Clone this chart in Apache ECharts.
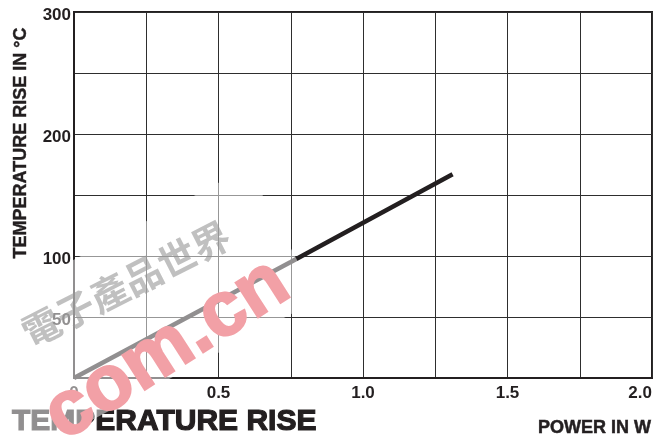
<!DOCTYPE html>
<html>
<head>
<meta charset="utf-8">
<script src="https://cdn.jsdelivr.net/npm/echarts@6/dist/echarts.min.js"></script>
<style>
html,body{margin:0;padding:0;background:#fff;}
#chart{width:665px;height:438px;}
</style>
</head>
<body>
<div id="chart"></div>
<script>
// Data
const powerW = [0, 0.75, 1.31];
const tempRiseC = [0, 95, 167];
const yTickLabels = [50, 100, 200, 300];
const xTickLabels = [0, 0.5, 1.0, 1.5, 2.0];
const yTitle = 'TEMPERATURE RISE IN °C';
const xTitle = 'POWER IN W';
const mainTitle = 'TEMPERATURE RISE';
const watermarkCn = '電子產品世界';
const watermarkEn = 'com.cn';

const FONT = "'Liberation Sans', Arial, Helvetica, sans-serif";
const INK = '#231f20';
const deg = Math.PI / 180;

const chart = echarts.init(document.getElementById('chart'));
chart.setOption({
  animation: false,
  backgroundColor: '#fff',
  grid: {left: 74, right: 13, top: 12, bottom: 60, show: true, borderColor: INK, borderWidth: 2, backgroundColor: 'transparent'},
  xAxis: {
    type: 'value', min: 0, max: 2, interval: 0.25,
    axisLine: {show: true, lineStyle: {color: INK, width: 2}},
    axisTick: {show: false},
    splitLine: {show: true, lineStyle: {color: '#2e2e2e', width: 1}},
    axisLabel: {
      margin: 7, color: INK, fontSize: 17, fontWeight: 'bold', fontFamily: FONT,
      alignMaxLabel: 'right',
      formatter: function (v) {
        const hit = xTickLabels.find(t => Math.abs(t - v) < 1e-6);
        if (hit === undefined) return '';
        return hit === 0 ? '0' : hit.toFixed(1);
      }
    }
  },
  yAxis: {
    type: 'value', min: 0, max: 300, interval: 50,
    axisLine: {show: true, lineStyle: {color: INK, width: 2}},
    axisTick: {show: false},
    splitLine: {show: true, lineStyle: {color: '#2e2e2e', width: 1}},
    axisLabel: {
      margin: 3, color: INK, fontSize: 17, fontWeight: 'bold', fontFamily: FONT,
      verticalAlign: 'top', lineHeight: 17, padding: [-5, 0, 0, 0],
      formatter: function (v) { return yTickLabels.indexOf(v) >= 0 ? String(v) : ''; }
    }
  },
  series: [{
    type: 'line',
    data: powerW.map((x, i) => [x, tempRiseC[i]]),
    showSymbol: false,
    symbol: 'none',
    lineStyle: {color: INK, width: 4.5},
    z: 5
  }],
  graphic: [
    {type: 'text', x: 21, y: 143, rotation: Math.PI / 2, z: 10,
     style: {text: yTitle, fill: INK, stroke: INK, lineWidth: 0.4, font: 'bold 18px ' + FONT, textAlign: 'center', textVerticalAlign: 'middle'}},
    {type: 'text', x: 12, y: 422, z: 10,
     style: {text: mainTitle, fill: INK, stroke: INK, lineWidth: 1.2, font: 'bold 30px ' + FONT, textAlign: 'left', textVerticalAlign: 'middle'}},
    {type: 'text', x: 651, y: 428, z: 10,
     style: {text: xTitle, fill: INK, stroke: INK, lineWidth: 0.5, font: 'bold 18px ' + FONT, textAlign: 'right', textVerticalAlign: 'middle'}},
    // watermark band
    {type: 'rect', x: 124, y: 318, rotation: 28 * deg, z: 100, silent: true,
     shape: {x: -180, y: -75, width: 360, height: 150},
     style: {fill: 'rgba(255,255,255,0.5)'}},
    {type: 'text', x: 126, y: 284, rotation: 27 * deg, z: 101, silent: true,
     style: {text: watermarkCn, fill: 'rgba(150,150,150,0.6)', font: 'bold 38px "Noto Sans CJK TC", sans-serif', textAlign: 'center', textVerticalAlign: 'middle'}},
    {type: 'text', x: 167, y: 350, rotation: 32.6 * deg, z: 102, silent: true,
     style: {text: watermarkEn, fill: '#f2a0a6', stroke: '#f2a0a6', lineWidth: 2, blend: 'multiply', font: 'bold 78px ' + FONT, textAlign: 'center', textVerticalAlign: 'middle'}}
  ]
});
</script>
</body>
</html>
